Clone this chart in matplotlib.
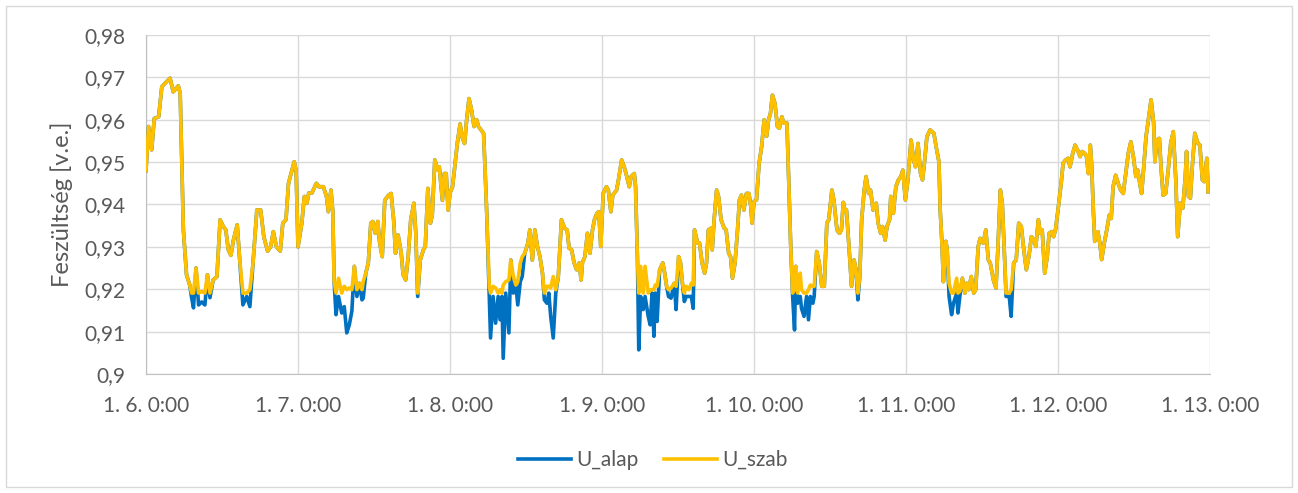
import matplotlib
matplotlib.use("Agg")
import matplotlib.pyplot as plt
from matplotlib.patches import Rectangle

# time in hours since "1. 6. 0:00"
hours = [
    0.0, 0.4, 0.9, 1.3, 2.0, 2.5, 3.0, 3.8, 4.3, 5.1, 5.4, 5.9, 6.4, 6.9, 7.2, 7.5, 7.9, 8.3, 8.8, 9.3, 9.7, 10.1, 10.6, 11.2, 11.7, 12.2, 12.6, 13.0, 13.4, 13.8, 14.4, 14.8, 15.3, 15.9, 16.4, 16.9, 17.5, 18.1, 18.6, 19.2, 19.7, 20.1, 20.6, 21.2, 21.6, 22.1, 22.5, 23.4, 23.7,
    24.0, 24.6, 25.0, 25.4, 25.7, 26.2, 26.4, 26.9, 27.3, 28.0, 28.5, 28.8, 29.2, 29.5, 29.7, 30.0, 30.4, 30.9, 31.3, 31.7, 32.1, 32.5, 32.9, 33.3, 33.7, 34.1, 34.3, 34.7, 35.1, 35.5, 35.8, 36.2, 36.6, 36.9, 37.3, 37.7, 38.3, 38.7, 39.1, 39.4, 39.8, 40.3, 40.6, 41.0, 41.4, 41.8, 42.3, 42.6, 42.9, 43.3, 43.8, 44.1, 44.5, 44.9, 45.2, 45.6, 46.1, 46.3, 46.8, 47.1, 47.4, 47.7,
    48.0, 48.4, 48.8, 49.2, 49.6, 49.9, 50.3, 50.6, 51.0, 51.4, 51.8, 52.2, 52.5, 52.9, 53.3, 53.5, 53.8, 54.2, 54.4, 54.8, 55.2, 55.6, 55.9, 56.2, 56.4, 56.8, 57.3, 57.6, 58.0, 58.4, 58.7, 59.1, 59.4, 59.8, 60.3, 60.6, 61.0, 61.4, 61.8, 62.2, 62.6, 62.9, 63.3, 63.6, 63.9, 64.3, 64.7, 65.1, 65.6, 66.1, 66.5, 66.8, 67.2, 67.6, 68.0, 68.4, 68.7, 68.9, 69.3, 69.7, 70.1, 70.5, 70.8, 71.2, 71.5, 71.8,
    72.2, 72.7, 73.0, 73.4, 73.7, 74.3, 74.6, 75.1, 75.5, 75.8, 76.3, 76.6, 77.1, 77.3, 77.6, 77.8, 78.1, 78.5, 78.8, 79.3, 79.6, 79.9, 80.2, 80.4, 80.7, 81.1, 81.6, 81.9, 82.2, 82.5, 82.9, 83.4, 83.7, 84.1, 84.4, 84.7, 85.0, 85.3, 85.7, 86.1, 86.4, 86.6, 87.1, 87.4, 87.8, 88.2, 88.5, 88.8, 89.2, 89.4, 89.7, 90.1, 90.4, 90.8, 91.3, 91.6, 92.0, 92.3, 92.6, 93.0, 93.4, 93.7, 94.0, 94.4, 94.8, 95.2, 95.5, 95.7,
    96.0, 96.4, 96.8, 97.2, 97.6, 98.0, 98.3, 98.6, 98.9, 99.3, 99.7, 100.0, 100.4, 100.7, 101.2, 101.4, 101.8, 102.1, 102.4, 102.6, 102.9, 103.3, 103.5, 103.9, 104.3, 104.6, 104.9, 105.3, 105.5, 105.9, 106.3, 106.7, 107.1, 107.5, 107.8, 108.3, 108.6, 109.1, 109.5, 109.8, 110.1, 110.4, 110.6, 111.1, 111.4, 111.8, 112.1, 112.4, 112.7, 113.0, 113.4, 113.7, 114.1, 114.4, 114.8, 115.3, 115.6, 116.0, 116.3, 116.7, 117.0, 117.4, 117.6, 118.0, 118.4, 118.8, 119.2, 119.5, 119.9,
    120.3, 120.8, 121.2, 121.5, 121.9, 122.3, 122.6, 122.9, 123.3, 123.8, 124.4, 124.8, 125.2, 125.4, 125.7, 125.9, 126.3, 126.5, 126.8, 127.2, 127.5, 128.0, 128.2, 128.5, 128.9, 129.3, 129.6, 129.9, 130.3, 130.7, 131.0, 131.4, 131.7, 132.2, 132.6, 133.0, 133.3, 133.8, 134.2, 134.5, 134.9, 135.2, 135.6, 135.8, 136.3, 136.6, 137.0, 137.4, 137.8, 138.2, 138.6, 139.0, 139.4, 139.8, 140.2, 140.5, 140.9, 141.2, 141.5, 141.9, 142.3, 142.6, 143.0, 143.3, 143.6,
    144.0, 144.5, 144.8, 145.2, 145.6, 145.9, 146.3, 146.7, 147.1, 147.5, 147.8, 148.2, 148.5, 148.8, 149.1, 149.3, 149.6, 149.8, 150.3, 150.6, 150.9, 151.3, 151.7, 152.1, 152.4, 152.7, 153.1, 153.5, 153.9, 154.3, 154.7, 155.1, 155.5, 155.9, 156.3, 156.6, 157.0, 157.2, 157.5, 157.9, 158.3, 158.7, 159.1, 159.3, 159.6, 160.0, 160.3, 160.6, 161.0, 161.4, 161.8, 162.2, 162.6, 162.9, 163.3, 163.7, 164.1, 164.3, 164.6, 164.9, 165.2, 165.6, 166.1, 166.4, 166.8, 167.1, 167.5, 167.7,
]

u_szab = [
    .9480, .9584, .9529, .9603, .9607, .9678, .9686, .9698, .9666, .9680, .9662, .9340, .9234, .9210, .9191, .9191, .9250, .9191, .9195, .9191, .9234, .9191, .9222, .9230, .9364, .9348, .9340, .9293, .9280, .9316, .9352, .9269, .9191, .9191, .9199, .9262, .9387, .9387, .9324, .9290, .9301, .9336, .9300, .9290, .9356, .9364, .9450, .9501, .9480,
    .9300, .9356, .9419, .9403, .9427, .9427, .9434, .9450, .9442, .9442, .9419, .9383, .9434, .9383, .9220, .9191, .9226, .9191, .9207, .9199, .9203, .9199, .9254, .9199, .9214, .9199, .9218, .9238, .9262, .9356, .9360, .9332, .9360, .9309, .9277, .9410, .9422, .9426, .9364, .9285, .9328, .9285, .9234, .9222, .9277, .9364, .9403, .9332, .9191, .9269, .9293, .9301, .9438, .9356, .9375, .9505, .9481, .9489, .9410, .9473, .9473, .9387,
    .9427, .9442, .9497, .9550, .9590, .9559, .9544, .9595, .9650, .9623, .9584, .9600, .9584, .9576, .9568, .9497, .9379, .9207, .9191, .9207, .9203, .9191, .9199, .9191, .9210, .9218, .9222, .9269, .9230, .9210, .9218, .9262, .9277, .9285, .9309, .9340, .9269, .9340, .9301, .9277, .9238, .9191, .9207, .9207, .9203, .9230, .9199, .9230, .9364, .9344, .9340, .9297, .9293, .9262, .9246, .9262, .9222, .9262, .9277, .9332, .9285, .9340, .9364, .9379, .9383, .9301,
    .9427, .9442, .9434, .9383, .9422, .9434, .9458, .9505, .9489, .9473, .9442, .9466, .9473, .9442, .9269, .9191, .9254, .9191, .9254, .9191, .9199, .9199, .9199, .9210, .9207, .9246, .9262, .9238, .9207, .9199, .9203, .9214, .9207, .9277, .9262, .9214, .9191, .9207, .9199, .9214, .9210, .9340, .9309, .9309, .9262, .9238, .9262, .9340, .9344, .9293, .9364, .9434, .9419, .9364, .9344, .9340, .9285, .9277, .9226, .9262, .9340, .9411, .9422, .9387, .9426, .9426, .9395, .9356,
    .9407, .9411, .9497, .9536, .9600, .9561, .9600, .9615, .9658, .9639, .9584, .9580, .9607, .9592, .9592, .9497, .9301, .9191, .9199, .9254, .9191, .9238, .9199, .9191, .9191, .9199, .9210, .9207, .9207, .9289, .9262, .9207, .9207, .9356, .9364, .9434, .9411, .9340, .9332, .9340, .9405, .9383, .9387, .9277, .9207, .9269, .9246, .9191, .9230, .9364, .9434, .9466, .9426, .9434, .9387, .9403, .9356, .9332, .9348, .9316, .9348, .9364, .9419, .9379, .9442, .9458, .9466, .9481, .9411,
    .9458, .9552, .9505, .9489, .9544, .9473, .9458, .9497, .9560, .9576, .9568, .9533, .9501, .9387, .9301, .9218, .9313, .9293, .9214, .9191, .9191, .9226, .9191, .9195, .9226, .9191, .9214, .9199, .9230, .9191, .9199, .9301, .9320, .9309, .9340, .9269, .9262, .9222, .9203, .9293, .9434, .9403, .9262, .9191, .9191, .9199, .9262, .9269, .9356, .9348, .9293, .9246, .9277, .9324, .9316, .9301, .9364, .9332, .9340, .9238, .9277, .9332, .9336, .9324, .9340,
    .9387, .9450, .9497, .9505, .9509, .9489, .9519, .9540, .9528, .9513, .9525, .9521, .9513, .9473, .9540, .9497, .9379, .9313, .9336, .9309, .9270, .9309, .9340, .9375, .9367, .9442, .9469, .9450, .9434, .9426, .9473, .9521, .9548, .9513, .9466, .9481, .9442, .9426, .9481, .9560, .9603, .9647, .9592, .9501, .9552, .9556, .9481, .9422, .9426, .9481, .9544, .9572, .9458, .9324, .9403, .9391, .9466, .9525, .9419, .9415, .9489, .9568, .9544, .9540, .9458, .9454, .9509, .9430,
]

u_alap = [
    .9480, .9584, .9529, .9603, .9607, .9678, .9686, .9698, .9666, .9680, .9662, .9340, .9234, .9210, .9180, .9156, .9250, .9163, .9170, .9163, .9234, .9180, .9222, .9230, .9364, .9348, .9340, .9293, .9280, .9316, .9352, .9269, .9163, .9183, .9159, .9262, .9387, .9387, .9324, .9290, .9301, .9336, .9300, .9290, .9356, .9364, .9450, .9501, .9480,
    .9300, .9356, .9419, .9403, .9427, .9427, .9434, .9450, .9442, .9442, .9419, .9383, .9434, .9383, .9220, .9140, .9183, .9144, .9159, .9097, .9116, .9148, .9254, .9183, .9214, .9175, .9179, .9238, .9262, .9356, .9360, .9332, .9360, .9309, .9277, .9410, .9422, .9426, .9364, .9285, .9328, .9285, .9234, .9222, .9277, .9364, .9403, .9332, .9183, .9269, .9293, .9301, .9438, .9356, .9375, .9505, .9481, .9489, .9410, .9473, .9473, .9387,
    .9427, .9442, .9497, .9550, .9590, .9559, .9544, .9595, .9650, .9623, .9584, .9600, .9584, .9576, .9568, .9497, .9379, .9183, .9085, .9183, .9120, .9183, .9128, .9183, .9037, .9191, .9097, .9269, .9191, .9210, .9163, .9218, .9230, .9285, .9309, .9340, .9269, .9340, .9301, .9277, .9238, .9175, .9167, .9191, .9136, .9085, .9191, .9230, .9364, .9344, .9340, .9297, .9293, .9262, .9246, .9262, .9222, .9262, .9277, .9332, .9285, .9340, .9364, .9379, .9383, .9301,
    .9427, .9442, .9434, .9383, .9422, .9434, .9458, .9505, .9489, .9473, .9442, .9466, .9473, .9442, .9269, .9057, .9183, .9152, .9183, .9136, .9116, .9191, .9089, .9191, .9124, .9246, .9262, .9238, .9207, .9183, .9179, .9214, .9152, .9277, .9262, .9214, .9171, .9183, .9183, .9183, .9155, .9340, .9309, .9309, .9262, .9238, .9262, .9340, .9344, .9293, .9364, .9434, .9419, .9364, .9344, .9340, .9285, .9277, .9226, .9262, .9340, .9411, .9422, .9387, .9426, .9426, .9395, .9356,
    .9407, .9411, .9497, .9536, .9600, .9561, .9600, .9615, .9658, .9639, .9584, .9580, .9607, .9592, .9592, .9497, .9301, .9183, .9104, .9254, .9167, .9183, .9155, .9136, .9183, .9128, .9183, .9167, .9183, .9289, .9262, .9207, .9207, .9356, .9364, .9434, .9411, .9340, .9332, .9340, .9405, .9383, .9387, .9277, .9207, .9269, .9246, .9175, .9230, .9364, .9434, .9466, .9426, .9434, .9387, .9403, .9356, .9332, .9348, .9316, .9348, .9364, .9419, .9379, .9442, .9458, .9466, .9481, .9411,
    .9458, .9552, .9505, .9489, .9544, .9473, .9458, .9497, .9560, .9576, .9568, .9533, .9501, .9387, .9301, .9218, .9313, .9293, .9183, .9140, .9167, .9191, .9144, .9183, .9226, .9191, .9214, .9199, .9230, .9191, .9199, .9301, .9320, .9309, .9340, .9269, .9262, .9222, .9203, .9293, .9434, .9403, .9262, .9183, .9183, .9136, .9262, .9269, .9356, .9348, .9293, .9246, .9277, .9324, .9316, .9301, .9364, .9332, .9340, .9238, .9277, .9332, .9336, .9324, .9340,
    .9387, .9450, .9497, .9505, .9509, .9489, .9519, .9540, .9528, .9513, .9525, .9521, .9513, .9473, .9540, .9497, .9379, .9313, .9336, .9309, .9270, .9309, .9340, .9375, .9367, .9442, .9469, .9450, .9434, .9426, .9473, .9521, .9548, .9513, .9466, .9481, .9442, .9426, .9481, .9560, .9603, .9647, .9592, .9501, .9552, .9556, .9481, .9422, .9426, .9481, .9544, .9572, .9458, .9324, .9403, .9391, .9466, .9525, .9419, .9415, .9489, .9568, .9544, .9540, .9458, .9454, .9509, .9430,
]

x_tick_hours = [0, 24, 48, 72, 96, 120, 144, 168]
x_tick_labels = ["1. 6. 0:00", "1. 7. 0:00", "1. 8. 0:00", "1. 9. 0:00",
                 "1. 10. 0:00", "1. 11. 0:00", "1. 12. 0:00", "1. 13. 0:00"]
y_ticks = [0.90, 0.91, 0.92, 0.93, 0.94, 0.95, 0.96, 0.97, 0.98]
y_tick_labels = ["0,9", "0,91", "0,92", "0,93", "0,94", "0,95", "0,96", "0,97", "0,98"]
series_names = ["U_alap", "U_szab"]
y_label = "Feszültség [v.e.]"

plt.rcParams['font.family'] = ['Lato', 'DejaVu Sans']
TXT = "#595959"
GRID = "#d9d9d9"

fig = plt.figure(figsize=(12.98, 4.93), dpi=100)
fig.patches.append(Rectangle((6/1298, 6/493), 1 - 12/1298, 1 - 12/493,
                             transform=fig.transFigure, fill=False,
                             edgecolor=GRID, linewidth=1.0))
ax = fig.add_axes([146/1298, 1 - 374/493, (1210 - 146)/1298, (374 - 35)/493])

ax.plot(hours, u_alap, color="#0070C0", linewidth=2.6, label=series_names[0],
        solid_joinstyle="round", zorder=3)
ax.plot(hours, u_szab, color="#FFC000", linewidth=2.6, label=series_names[1],
        solid_joinstyle="round", zorder=4)

ax.set_xlim(0, 168)
ax.set_ylim(0.9, 0.98)
ax.set_xticks(x_tick_hours)
ax.set_xticklabels(x_tick_labels)
ax.set_yticks(y_ticks)
ax.set_yticklabels(y_tick_labels)
ax.grid(True, color=GRID, linewidth=1.0)
ax.set_axisbelow(True)
for s in ax.spines.values():
    s.set_visible(False)
ax.spines['left'].set_visible(True)
ax.spines['bottom'].set_visible(True)
ax.spines['left'].set_color("#bfbfbf")
ax.spines['bottom'].set_color("#bfbfbf")
ax.tick_params(axis='both', length=0, labelsize=15, colors=TXT)
ax.tick_params(axis='y', pad=15)
ax.tick_params(axis='x', pad=16)
ax.set_ylabel(y_label, fontsize=17, color=TXT, labelpad=8)

fig.legend(loc="center", bbox_to_anchor=(0.503, 1 - 460/493), ncol=2,
           frameon=False, fontsize=15, labelcolor=TXT, handlelength=2.55,
           columnspacing=1.2, handletextpad=0.25)

fig.savefig("out.png", dpi=100)
